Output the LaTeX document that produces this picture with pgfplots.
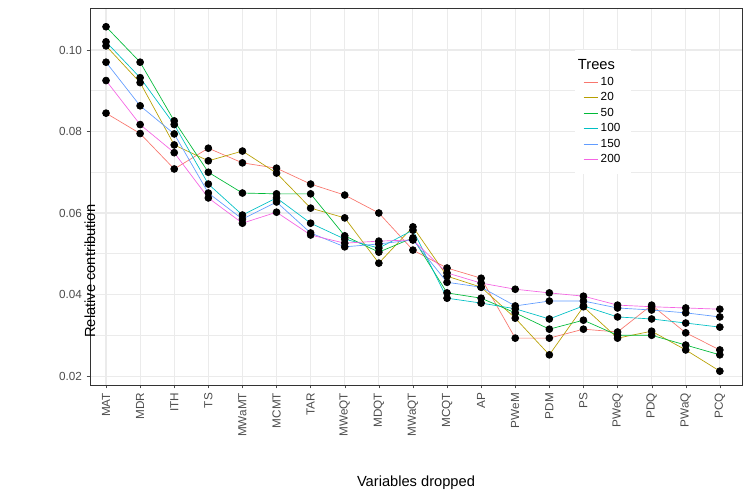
\documentclass[border=0pt]{standalone}
\usepackage{pgfplots}
\pgfplotsset{compat=1.18}
\usepackage{pgfplotstable}
\usepackage{fontspec}
\setmainfont{Liberation Sans}
\definecolor{c1}{HTML}{F8766D}
\definecolor{c2}{HTML}{B79F00}
\definecolor{c3}{HTML}{00BA38}
\definecolor{c4}{HTML}{00BFC4}
\definecolor{c5}{HTML}{619CFF}
\definecolor{c6}{HTML}{F564E3}
\definecolor{gridc}{HTML}{EBEBEB}
\pgfplotstableread{
x a b c d e f
0 0.0845 0.1010 0.1057 0.1020 0.0970 0.0925
1 0.0795 0.0920 0.0970 0.0932 0.0863 0.0817
2 0.0708 0.0767 0.0826 0.0817 0.0794 0.0748
3 0.0759 0.0728 0.0700 0.0671 0.0649 0.0637
4 0.0723 0.0752 0.0649 0.0595 0.0585 0.0575
5 0.0710 0.0698 0.0647 0.0637 0.0627 0.0602
6 0.0671 0.0612 0.0647 0.0575 0.0551 0.0546
7 0.0644 0.0588 0.0544 0.0536 0.0517 0.0526
8 0.0600 0.0477 0.0504 0.0514 0.0524 0.0531
9 0.0509 0.0566 0.0539 0.0558 0.0534 0.0534
10 0.0465 0.0445 0.0404 0.0391 0.0430 0.0453
11 0.0440 0.0418 0.0391 0.0379 0.0418 0.0428
12 0.0293 0.0342 0.0355 0.0365 0.0372 0.0413
13 0.0293 0.0252 0.0315 0.0340 0.0384 0.0404
14 0.0315 0.0370 0.0337 0.0372 0.0384 0.0396
15 0.0308 0.0293 0.0300 0.0345 0.0367 0.0374
16 0.0374 0.0310 0.0300 0.0340 0.0362 0.0370
17 0.0306 0.0264 0.0276 0.0330 0.0355 0.0367
18 0.0264 0.0212 0.0252 0.0320 0.0345 0.0364
}\data
\begin{document}
\begin{tikzpicture}
\useasboundingbox (-67.5pt,-86.25pt) rectangle (495pt,288.75pt);
\begin{axis}[
  at={(0,0)}, anchor=south west,
  scale only axis, width=489pt, height=282.75pt,
  xmin=-0.47, xmax=18.65, ymin=0.0178, ymax=0.1103,
  xtick=data,
  xticklabels={MAT,MDR,ITH,TS,MWaMT,MCMT,TAR,MWeQT,MDQT,MWaQT,MCQT,AP,PWeM,PDM,PS,PWeQ,PDQ,PWaQ,PCQ},
  x tick label style={rotate=90, anchor=east, font=\fontsize{8.8}{10}\selectfont, text=black!70},
  ytick={0.02,0.04,0.06,0.08,0.10},
  yticklabels={0.02,0.04,0.06,0.08,0.10},
  y tick label style={font=\fontsize{8.8}{10}\selectfont, text=black!70},
  minor ytick={0.03,0.05,0.07,0.09},
  grid=both, major grid style={gridc, line width=0.8pt}, minor grid style={gridc, line width=0.4pt},
  axis line style={black!80, line width=0.5pt},
  tick style={black!70}, major tick length=2.5pt, minor tick length=0pt,
  tick align=outside, xtick pos=bottom, ytick pos=left,
  xlabel={Variables dropped}, ylabel={Relative contribution},
  label style={font=\fontsize{11}{13}\selectfont},
  xlabel style={at={(axis description cs:0.5,0)}, anchor=center, yshift=-73pt},
  ylabel style={at={(axis description cs:0,0.5)}, anchor=center, xshift=-56pt},
  legend style={at={(0.744,0.889)}, anchor=north west, draw=none, fill=white, font=\fontsize{8.8}{10}\selectfont, inner xsep=6pt, inner ysep=5pt},
  legend cell align=left,
  legend image code/.code={\draw[#1, mark=none] (0cm,0cm) -- (0.37cm,0cm);},
  every axis plot/.append style={line width=0.5pt, mark=*, mark size=2.6pt, mark options={black, fill=black}},
]
\addlegendimage{empty legend}\addlegendentry{\hspace{-0.6cm}\fontsize{11}{12}\selectfont Trees}
\addplot[c1] table[y=a]{\data};\addlegendentry{10}
\addplot[c2] table[y=b]{\data};\addlegendentry{20}
\addplot[c3] table[y=c]{\data};\addlegendentry{50}
\addplot[c4] table[y=d]{\data};\addlegendentry{100}
\addplot[c5] table[y=e]{\data};\addlegendentry{150}
\addplot[c6] table[y=f]{\data};\addlegendentry{200}
\end{axis}
\end{tikzpicture}
\end{document}
